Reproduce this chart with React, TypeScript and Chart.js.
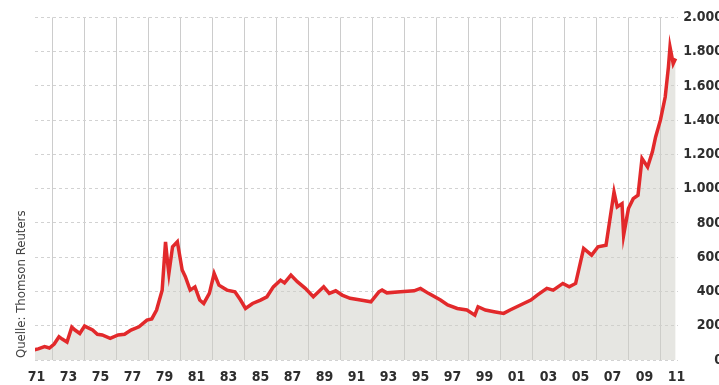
import React, { useEffect, useRef } from 'react';
import { Chart, registerables } from 'chart.js';

Chart.register(...registerables);

const gridYears = [1973, 1975, 1977, 1979, 1981, 1983, 1985, 1987, 1989, 1991, 1993, 1995, 1997, 1999, 2001, 2003, 2005, 2007, 2009, 2011];
const labelYears = [1971, 1973, 1975, 1977, 1979, 1981, 1983, 1985, 1987, 1989, 1991, 1993, 1995, 1997, 1999, 2001, 2003, 2005, 2007, 2009, 2011];

const goldYears = [
  1971.8, 1972.1, 1972.5, 1972.8, 1973.1, 1973.4, 1973.6, 1973.9, 1974.2, 1974.4,
  1974.7, 1975.0, 1975.5, 1975.8, 1976.1, 1976.6, 1977.1, 1977.5, 1977.9, 1978.4,
  1978.9, 1979.2, 1979.5, 1979.85, 1980.06, 1980.2, 1980.27, 1980.5, 1980.8, 1981.1,
  1981.3, 1981.6, 1981.9, 1982.2, 1982.45, 1982.8, 1983.1, 1983.4, 1983.9, 1984.4,
  1984.75, 1985.06, 1985.5, 1986.0, 1986.4, 1986.8, 1987.25, 1987.5, 1987.9, 1988.3,
  1988.8, 1989.3, 1989.95, 1990.3, 1990.7, 1991.1, 1991.6, 1992.25, 1992.9, 1993.4,
  1993.6, 1993.9, 1994.75, 1995.6, 1996.0, 1996.5, 1997.25, 1997.7, 1998.3, 1998.9,
  1999.4, 1999.6, 2000.06, 2000.6, 2001.2, 2001.6, 2002.25, 2002.9, 2003.3, 2003.9,
  2004.3, 2004.9, 2005.3, 2005.7, 2006.2, 2006.7, 2007.1, 2007.6, 2008.1, 2008.3,
  2008.6, 2008.7, 2009.0, 2009.3, 2009.6, 2009.85, 2010.2, 2010.5, 2010.7, 2011.0,
  2011.3, 2011.5, 2011.6, 2011.8, 2011.95,
];
const goldPrices = [
  58, 65, 78, 70, 93, 136, 122, 105, 192, 175,
  155, 198, 175, 150, 146, 126, 146, 150, 175, 194,
  233, 240, 292, 408, 690, 560, 505, 661, 690, 525,
  486, 408, 427, 350, 330, 389, 505, 437, 408, 398,
  350, 301, 330, 350, 369, 427, 466, 450, 496, 457,
  418, 369, 427, 389, 404, 379, 360, 350, 340, 398,
  408, 392, 398, 404, 418, 389, 350, 321, 301, 292,
  262, 311, 292, 282, 272, 292, 321, 350, 379, 418,
  408, 447, 427, 447, 651, 612, 661, 670, 981, 894,
  913, 729, 884, 942, 962, 1176, 1127, 1215, 1302, 1400,
  1535, 1710, 1827, 1730, 1760,
];

const sourceText = 'Quelle: Thomson Reuters';
const FONT = "'Liberation Sans Narrow', 'DejaVu Sans Condensed', 'Arial Narrow', sans-serif";

export default function App() {
  const ref = useRef<HTMLCanvasElement | null>(null);

  useEffect(() => {
    if (!ref.current) return;
    const chart = new Chart(ref.current, {
      type: 'line',
      data: {
        datasets: [
          {
            data: goldYears.map((x, i) => ({ x, y: goldPrices[i] })),
            borderColor: '#e2292b',
            borderWidth: 3.5,
            backgroundColor: 'rgba(205,205,198,0.5)',
            fill: 'origin',
            pointRadius: 0,
            tension: 0,
            xAxisID: 'x',
            yAxisID: 'y',
          },
        ],
      },
      options: {
        animation: false,
        responsive: false,
        layout: { padding: { left: 35, top: 17, right: 0, bottom: 0 } },
        plugins: { legend: { display: false }, tooltip: { enabled: false }, title: { display: false } },
        scales: {
          x: {
            type: 'linear',
            position: 'bottom',
            min: 1971.9,
            max: 2012.1,
            afterBuildTicks: (s: any) => {
              s.ticks = gridYears.map((v) => ({ value: v }));
            },
            ticks: { display: false },
            grid: { color: '#cccccc', lineWidth: 1, drawTicks: false },
            border: { display: false },
            afterFit: (s: any) => {
              s.height = 0;
            },
          },
          xl: {
            type: 'linear',
            position: 'bottom',
            min: 1971.9,
            max: 2012.1,
            afterBuildTicks: (s: any) => {
              s.ticks = labelYears.map((v) => ({ value: v + 1 }));
            },
            ticks: {
              autoSkip: false,
              maxRotation: 0,
              padding: 9,
              color: '#2e2e2e',
              font: { family: FONT, size: 14, weight: 'bold' },
              callback: (v: any) => String(Math.round(Number(v) - 1) % 100).padStart(2, '0'),
            },
            grid: { display: false, drawTicks: false },
            border: { display: false },
            afterFit: (s: any) => {
              s.height = 25;
            },
          },
          y: {
            type: 'linear',
            position: 'right',
            min: 0,
            max: 2000,
            ticks: {
              stepSize: 200,
              crossAlign: 'far',
              padding: 9,
              color: '#2e2e2e',
              font: { family: FONT, size: 14, weight: 'bold' },
              callback: (v: any) => Number(v).toLocaleString('de-DE'),
            },
            grid: { color: '#d2d2d2', lineWidth: 1, drawTicks: false, borderDash: [3, 3] } as any,
            border: { display: false, dash: [3, 3] },
            afterFit: (s: any) => {
              s.width = 45;
            },
          },
        },
      },
    });
    return () => chart.destroy();
  }, []);

  return (
    <div style={{ position: 'absolute', left: 0, top: 0, width: 719, height: 385, overflow: 'hidden', background: '#fff' }}>
      <canvas ref={ref} width={723} height={385} style={{ display: 'block', width: 723, height: 385 }} />
      <div
        style={{
          position: 'absolute',
          left: 14,
          top: 358,
          transform: 'rotate(-90deg)',
          transformOrigin: 'left top',
          whiteSpace: 'nowrap',
          fontFamily: FONT,
          fontSize: 13,
          lineHeight: '13px',
          color: '#444',
        }}
      >
        {sourceText}
      </div>
    </div>
  );
}
